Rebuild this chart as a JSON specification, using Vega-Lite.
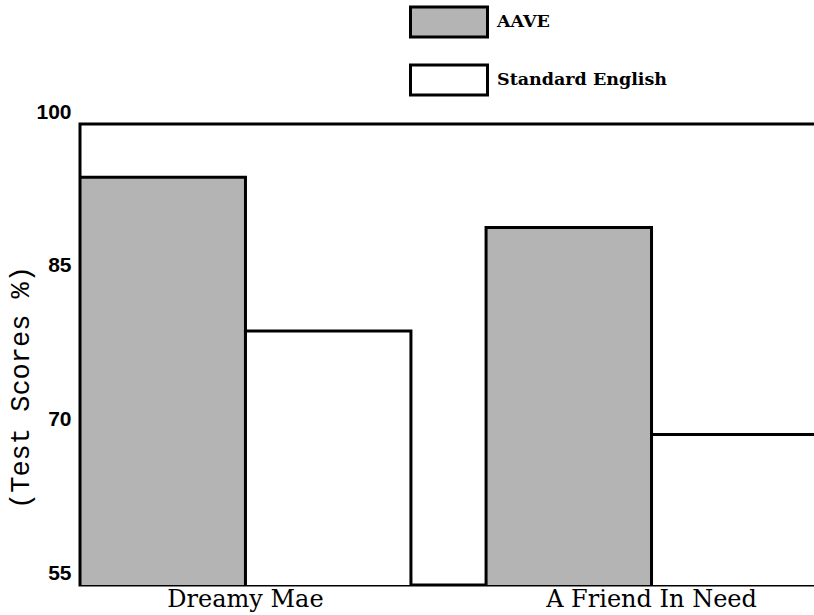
{
  "$schema": "https://vega.github.io/schema/vega-lite/v6.json",
  "autosize": "none",
  "padding": {"left": 80, "top": 124, "right": 0, "bottom": 30},
  "width": 737,
  "height": 461,
  "background": "white",
  "config": {
    "view": {"stroke": "black", "strokeWidth": 3},
    "axis": {"labelColor": "black", "titleColor": "black"}
  },
  "data": {
    "values": [
      {"story": "Dreamy Mae", "version": "AAVE", "score": 94.8},
      {"story": "Dreamy Mae", "version": "Standard English", "score": 79.8},
      {"story": "A Friend In Need", "version": "AAVE", "score": 89.9},
      {"story": "A Friend In Need", "version": "Standard English", "score": 69.7}
    ]
  },
  "mark": {"type": "bar", "stroke": "black", "strokeWidth": 3, "strokeJoin": "miter", "clip": true},
  "encoding": {
    "x": {
      "field": "story",
      "type": "nominal",
      "sort": ["Dreamy Mae", "A Friend In Need"],
      "scale": {"paddingInner": 0.185, "paddingOuter": 0},
      "axis": {
        "title": null,
        "labelAngle": 0,
        "domain": false,
        "ticks": false,
        "labelFont": "DejaVu Serif",
        "labelFontSize": 24,
        "labelPadding": 2,
        "labelLimit": 0
      }
    },
    "xOffset": {
      "field": "version",
      "type": "nominal",
      "sort": ["AAVE", "Standard English"],
      "scale": {"paddingInner": 0, "paddingOuter": 0}
    },
    "y": {
      "field": "score",
      "type": "quantitative",
      "scale": {"domain": [55, 100], "nice": false, "zero": false},
      "axis": {
        "values": [55, 70, 85, 100],
        "domain": false,
        "ticks": false,
        "grid": false,
        "labelFont": "Liberation Sans",
        "labelFontWeight": "bold",
        "labelFontSize": 21,
        "labelPadding": 9,
        "labelOffset": -12,
        "title": "(Test Scores %)",
        "titleFont": "Liberation Mono",
        "titleFontWeight": "normal",
        "titleFontSize": 27,
        "titleX": -60,
        "titleY": 263,
        "titleAngle": -90,
        "titleAlign": "center",
        "titleBaseline": "middle"
      }
    },
    "fill": {
      "field": "version",
      "type": "nominal",
      "sort": ["AAVE", "Standard English"],
      "scale": {"domain": ["AAVE", "Standard English"], "range": ["#b4b4b4", "#ffffff"]},
      "legend": {
        "title": null,
        "orient": "none",
        "legendX": 348,
        "legendY": -123,
        "symbolType": "M-2,-0.78H2V0.78H-2Z",
        "symbolSize": 1482,
        "symbolStrokeColor": "black",
        "symbolStrokeWidth": 3,
        "symbolOpacity": 1,
        "labelFont": "DejaVu Serif",
        "labelFontWeight": "bold",
        "labelFontSize": 17.5,
        "labelColor": "black",
        "labelOffset": 27,
        "labelLimit": 0,
        "rowPadding": 14
      }
    }
  }
}
